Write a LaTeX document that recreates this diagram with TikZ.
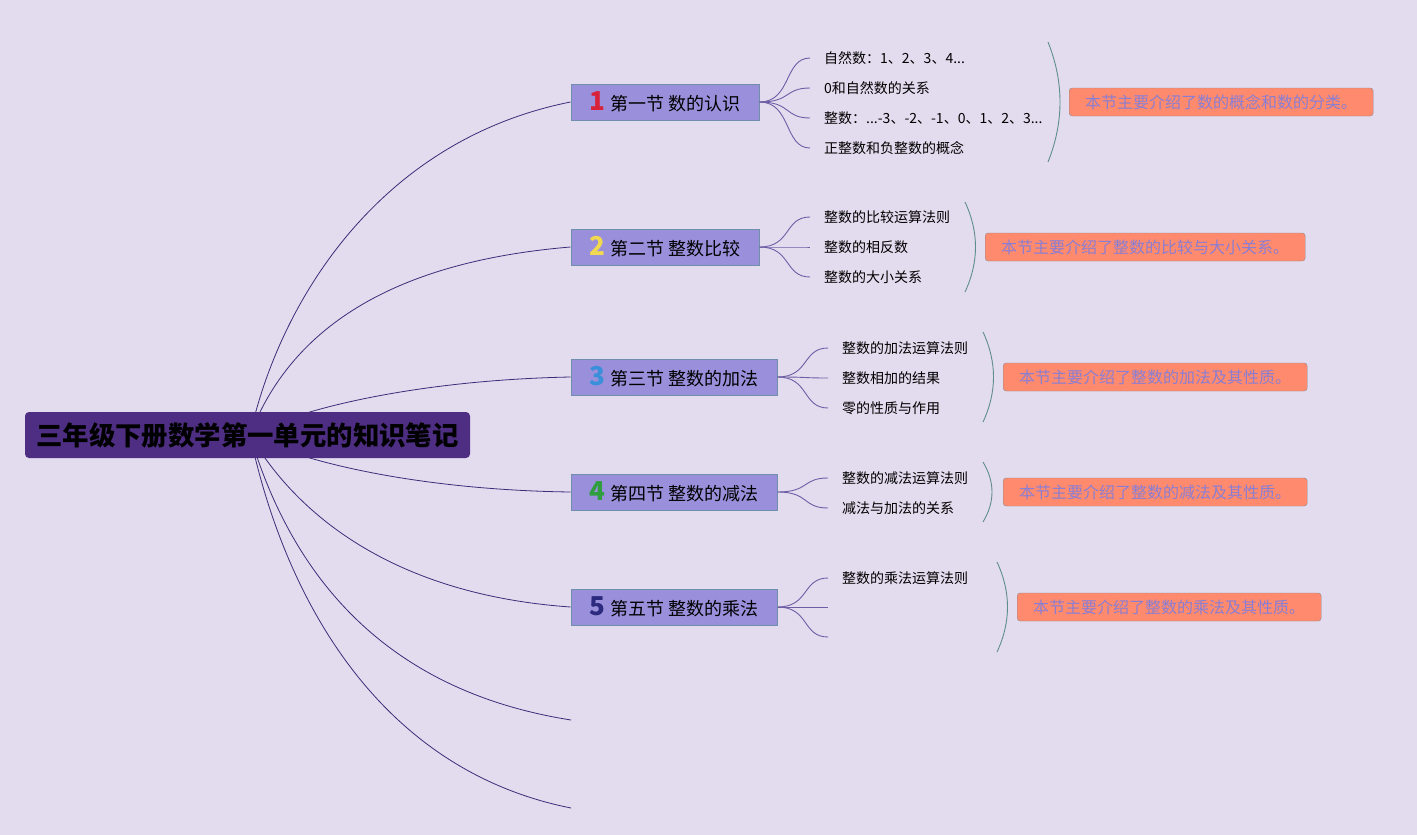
\documentclass[tikz,border=0pt]{standalone}
\usepackage{fontspec}
\setmainfont{Noto Sans CJK SC}
\usetikzlibrary{positioning,backgrounds,calc}
\definecolor{BgLilac}{HTML}{E3DBEE}
\definecolor{RootPurple}{HTML}{4E2E82}
\definecolor{SecViolet}{HTML}{9A8FDB}
\definecolor{SecEdge}{HTML}{6F8FAA}
\definecolor{SumSalmon}{HTML}{FF8A6E}
\definecolor{SumEdge}{HTML}{8E8A8C}
\definecolor{SumText}{HTML}{8A7ED2}
\definecolor{TrunkLine}{HTML}{3A2E78}
\definecolor{TwigLine}{HTML}{6E5EA6}
\definecolor{BraceTeal}{HTML}{5F8E8E}
\definecolor{NumRed}{HTML}{D9213A}
\definecolor{NumYellow}{HTML}{F2D84E}
\definecolor{NumBlue}{HTML}{3A8FDA}
\definecolor{NumGreen}{HTML}{2E9E3E}
\definecolor{NumNavy}{HTML}{2B2A7E}
% 章节编号
\newcommand{\secnum}[2]{{\fontsize{26}{26}\selectfont\bfseries\color{#1}#2}\hspace{6pt}}

\begin{document}
\begin{tikzpicture}[
    x=1pt, y=-1pt,
    root/.style={fill=RootPurple, rounded corners=4pt, minimum width=445, minimum height=46, inner sep=0pt, font=\fontsize{26.4}{26.4}\selectfont\bfseries, text=black},
    sec/.style={draw=SecEdge, line width=1pt, fill=SecViolet, minimum height=36, inner sep=0pt, font=\fontsize{18}{18}\selectfont, text=black},
    leaf/.style={anchor=west, inner xsep=14pt, inner ysep=2pt, font=\fontsize{14}{14}\selectfont, text=black},
    summ/.style={anchor=west, draw=SumEdge, fill=SumSalmon, rounded corners=3pt, minimum height=28, inner xsep=16pt, inner ysep=0pt, font=\fontsize{16}{16}\selectfont, text=SumText},
    trunk/.style={draw=TrunkLine, line width=0.8pt},
    twig/.style={draw=TwigLine, line width=0.9pt},
    brace/.style={draw=BraceTeal, line width=0.9pt}
]
% 背景
\begin{scope}[on background layer]
  \fill[BgLilac] (0,0) rectangle (1417,835);
\end{scope}
\useasboundingbox (0,0) rectangle (1417,835);

% 中心主题
\node[root] (root) at (247.5,435) {三年级下册数学第一单元的知识笔记};
\coordinate (hub) at (250,435);

% 五个小节
\node[sec, minimum width=188] (s1) at (665,102) {\secnum{NumRed}{1}第一节 数的认识};
\node[sec, minimum width=188] (s2) at (665,247) {\secnum{NumYellow}{2}第二节 整数比较};
\node[sec, minimum width=206] (s3) at (674,377) {\secnum{NumBlue}{3}第三节 整数的加法};
\node[sec, minimum width=206] (s4) at (674,492) {\secnum{NumGreen}{4}第四节 整数的减法};
\node[sec, minimum width=206] (s5) at (674,607) {\secnum{NumNavy}{5}第五节 整数的乘法};
\coordinate (e1) at (571,720);
\coordinate (e2) at (571,808);

% 主干曲线（放在背景层，被中心主题遮住）
\begin{scope}[on background layer]
  \draw[trunk] (hub) .. controls (280,300) and (380,140) .. (s1.west);
  \draw[trunk] (hub) .. controls (290,330) and (390,262) .. (s2.west);
  \draw[trunk] (hub) .. controls (300,408) and (420,380) .. (s3.west);
  \draw[trunk] (hub) .. controls (300,462) and (420,490) .. (s4.west);
  \draw[trunk] (hub) .. controls (300,520) and (400,595) .. (s5.west);
  \draw[trunk] (hub) .. controls (290,570) and (380,690) .. (e1);
  \draw[trunk] (hub) .. controls (285,600) and (380,770) .. (e2);
\end{scope}

% 第一节的分支
\node[leaf] (l11) at (810,58) {自然数：1、2、3、4...};
\node[leaf] (l12) at (810,88) {0和自然数的关系};
\node[leaf] (l13) at (810,118) {整数：...-3、-2、-1、0、1、2、3...};
\node[leaf] (l14) at (810,148) {正整数和负整数的概念};
\foreach \l in {l11,l12,l13,l14}
  \draw[twig] (s1.east) .. controls +(32,0) and +(-26,0) .. (\l.west);

% 第二节的分支
\node[leaf] (l21) at (810,217) {整数的比较运算法则};
\node[leaf] (l22) at (810,247) {整数的相反数};
\node[leaf] (l23) at (810,277) {整数的大小关系};
\foreach \l in {l21,l22,l23}
  \draw[twig] (s2.east) .. controls +(32,0) and +(-26,0) .. (\l.west);

% 第三节的分支
\node[leaf] (l31) at (828,348) {整数的加法运算法则};
\node[leaf] (l32) at (828,378) {整数相加的结果};
\node[leaf] (l33) at (828,408) {零的性质与作用};
\foreach \l in {l31,l32,l33}
  \draw[twig] (s3.east) .. controls +(32,0) and +(-26,0) .. (\l.west);

% 第四节的分支
\node[leaf] (l41) at (828,478) {整数的减法运算法则};
\node[leaf] (l42) at (828,508) {减法与加法的关系};
\foreach \l in {l41,l42}
  \draw[twig] (s4.east) .. controls +(32,0) and +(-26,0) .. (\l.west);

% 第五节的分支（后两条为空）
\node[leaf] (l51) at (828,578) {整数的乘法运算法则};
\coordinate (l52) at (828,607);
\coordinate (l53) at (828,637);
\draw[twig] (s5.east) .. controls +(32,0) and +(-26,0) .. (l51.west);
\draw[twig] (s5.east) -- (l52);
\draw[twig] (s5.east) .. controls +(32,0) and +(-26,0) .. (l53);

% 概要括号与概要框
\coordinate (b1t) at (1048,42);  \coordinate (b1b) at (1048,162);
\coordinate (b2t) at (965,202);  \coordinate (b2b) at (965,292);
\coordinate (b3t) at (983,332);  \coordinate (b3b) at (983,422);
\coordinate (b4t) at (983,462);  \coordinate (b4b) at (983,522);
\coordinate (b5t) at (997,562);  \coordinate (b5b) at (997,652);
\draw[brace] (b1t) .. controls +(16,40) and +(16,-40) .. (b1b);
\draw[brace] (b2t) .. controls +(14,30) and +(14,-30) .. (b2b);
\draw[brace] (b3t) .. controls +(14,30) and +(14,-30) .. (b3b);
\draw[brace] (b4t) .. controls +(12,20) and +(12,-20) .. (b4b);
\draw[brace] (b5t) .. controls +(14,30) and +(14,-30) .. (b5b);

\node[summ] (m1) at (1069,102) {本节主要介绍了数的概念和数的分类。};
\node[summ] (m2) at (985,247) {本节主要介绍了整数的比较与大小关系。};
\node[summ] (m3) at (1003,377) {本节主要介绍了整数的加法及其性质。};
\node[summ] (m4) at (1003,492) {本节主要介绍了整数的减法及其性质。};
\node[summ] (m5) at (1017,607) {本节主要介绍了整数的乘法及其性质。};
\end{tikzpicture}
\end{document}
